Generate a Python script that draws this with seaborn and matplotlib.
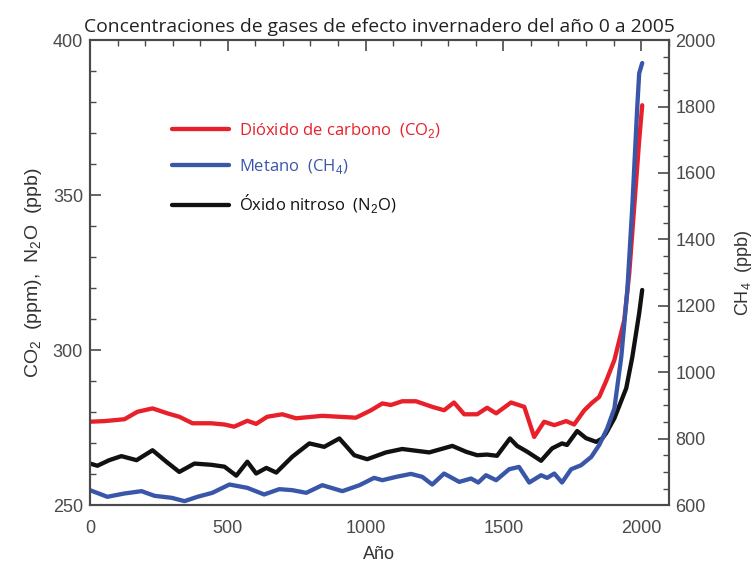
import matplotlib
matplotlib.use("Agg")
import matplotlib.pyplot as plt
from matplotlib.lines import Line2D
from matplotlib.ticker import MultipleLocator
import seaborn as sns

# Values
years_co2 = [0, 53, 125, 172, 227, 281, 324, 372, 440, 488, 523, 571, 603, 643, 698,
             748, 843, 965, 1020, 1061, 1092, 1133, 1183, 1242, 1285, 1321, 1358, 1405,
             1441, 1474, 1528, 1576, 1612, 1648, 1685, 1728, 1757, 1794, 1823, 1848,
             1873, 1903, 1939, 1957, 1975, 1993, 2004]
co2 = [276.9, 277.1, 277.7, 280.1, 281.2, 279.6, 278.5, 276.4, 276.4, 276.0, 275.3,
       277.2, 276.2, 278.5, 279.3, 278.0, 278.8, 278.2, 280.6, 282.8, 282.3, 283.5,
       283.5, 281.7, 280.6, 283.1, 279.3, 279.3, 281.4, 279.6, 283.1, 281.7, 272.0,
       276.9, 275.8, 277.1, 276.0, 280.6, 283.1, 284.9, 290.0, 296.8, 309.7, 324.8,
       346.2, 367.7, 379.0]

years_n2o = [0, 27, 70, 114, 169, 227, 277, 324, 379, 440, 488, 531, 571, 603, 640,
             676, 734, 796, 850, 905, 959, 1006, 1074, 1133, 1231, 1315, 1365, 1405,
             1441, 1477, 1524, 1550, 1587, 1637, 1677, 1713, 1731, 1768, 1800, 1837,
             1859, 1873, 1903, 1946, 1968, 1993, 2004]
n2o = [263.4, 262.7, 264.5, 265.8, 264.5, 267.7, 264.0, 260.7, 263.4, 263.0, 262.4,
       259.5, 264.0, 260.2, 262.0, 260.5, 265.6, 269.9, 268.8, 271.5, 266.1, 264.8,
       267.0, 268.1, 267.0, 269.1, 267.2, 266.1, 266.3, 265.9, 271.5, 269.1, 267.2,
       264.3, 268.3, 269.9, 269.4, 273.9, 271.6, 270.4, 271.5, 273.2, 278.0, 287.7,
       297.7, 311.9, 319.4]

years_ch4 = [0, 63, 125, 187, 234, 296, 343, 390, 444, 506, 571, 632, 687, 734, 785,
             843, 916, 978, 1031, 1061, 1111, 1165, 1206, 1242, 1285, 1340, 1383, 1409,
             1437, 1474, 1521, 1557, 1594, 1637, 1659, 1685, 1713, 1746, 1782, 1819,
             1848, 1877, 1903, 1928, 1950, 1968, 1986, 1993, 2004]
ch4 = [645, 625, 635, 642, 628, 622, 612, 625, 637, 662, 652, 632, 648, 645, 637, 660,
       642, 660, 682, 675, 685, 694, 685, 662, 695, 670, 680, 668, 690, 675, 708, 715,
       668, 690, 682, 695, 668, 708, 720, 745, 781, 831, 891, 1046, 1247, 1497, 1798,
       1900, 1931]

labels = ["Dióxido de carbono  (CO$_2$)", "Metano  (CH$_4$)", "Óxido nitroso  (N$_2$O)"]
colors = ["#e8202a", "#3a56a8", "#111111"]

sns.set_style("white")
plt.rcParams["font.family"] = ["Liberation Sans", "DejaVu Sans"]
plt.rcParams["mathtext.fontset"] = "custom"
plt.rcParams["mathtext.rm"] = "Liberation Sans"

fig = plt.figure(figsize=(7.53, 5.65), dpi=100)
ax = fig.add_axes([0.1195, 0.106, 0.7685, 0.823])
ax2 = ax.twinx()

sns.lineplot(x=years_co2, y=co2, ax=ax, color=colors[0], lw=3.1)
sns.lineplot(x=years_n2o, y=n2o, ax=ax, color=colors[2], lw=3.1)
sns.lineplot(x=years_ch4, y=ch4, ax=ax2, color=colors[1], lw=3.1)

ax.set_xlim(0, 2100)
ax.set_ylim(250, 400)
ax2.set_ylim(600, 2000)

grey = "#4a4a4a"
ax.xaxis.set_major_locator(MultipleLocator(500))
ax.xaxis.set_minor_locator(MultipleLocator(100))
ax.yaxis.set_major_locator(MultipleLocator(50))
ax.yaxis.set_minor_locator(MultipleLocator(10))
ax2.yaxis.set_major_locator(MultipleLocator(200))
ax2.yaxis.set_minor_locator(MultipleLocator(50))

ax.tick_params(axis="both", which="both", direction="in", colors=grey,
               labelsize=13, top=True, right=False)
ax.tick_params(axis="x", pad=11)
ax.tick_params(axis="y", pad=5)
ax.tick_params(which="major", length=8, width=1.2)
ax.tick_params(which="minor", length=4, width=1.0)
ax2.tick_params(axis="y", which="both", direction="in", colors=grey,
                labelsize=13, pad=5)
ax2.tick_params(which="major", length=8, width=1.2)
ax2.tick_params(which="minor", length=4, width=1.0)

for a in (ax, ax2):
    for s in a.spines.values():
        s.set_color(grey)
        s.set_linewidth(1.5)

ax.set_xlabel("Año", fontsize=13, color="#333333", labelpad=6)
ax.set_ylabel("CO$_2$  (ppm),  N$_2$O  (ppb)", fontsize=14, color="#333333", labelpad=6)
ax2.set_ylabel("CH$_4$  (ppb)", fontsize=13, color="#333333", rotation=90, labelpad=12)
ax.set_title("Concentraciones de gases de efecto invernadero del año 0 a 2005",
             fontsize=13.9, color="#222222", family="Open Sans", pad=6)

handles = [Line2D([], [], color=c, lw=3.1) for c in colors]
ax.legend(handles, labels, loc="upper left", bbox_to_anchor=(0.116, 0.858),
          frameon=False, handlelength=3.4, handletextpad=0.6, labelspacing=1.0,
          prop={"family": "Open Sans", "size": 12}, labelcolor=colors)

fig.savefig("out.png", dpi=100)
